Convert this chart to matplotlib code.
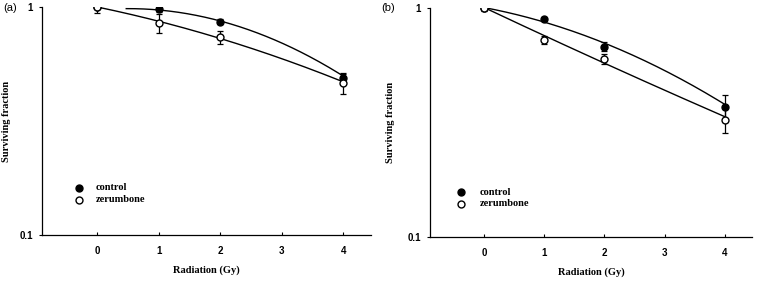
import numpy as np
import matplotlib
matplotlib.use('Agg')
import matplotlib.pyplot as plt

# dose points
dose = [0, 1, 2, 4]
xticks = [0, 1, 2, 3, 4]

# panel (a)
a_control = [1.0, 0.977, 0.862, 0.49]
a_control_err = [0.0, 0.03, 0.02, 0.02]
a_zer = [1.0, 0.85, 0.735, 0.465]
a_zer_err = [0.06, 0.08, 0.05, 0.05]

# panel (b)
b_control = [1.0, 0.892, 0.675, 0.367]
b_control_err = [0.0, 0.02, 0.03, 0.05]
b_zer = [1.0, 0.723, 0.599, 0.323]
b_zer_err = [0.03, 0.03, 0.03, 0.04]

# fitted curves: ln S = c + b*D + a*D^2  (c, b, a), and dose range of the drawn fit
a_control_fit = (-0.0303, 0.056, -0.0557)
a_control_range = (0.47, 4.0)
a_zer_fit = (0.0, -0.129, -0.015)
a_zer_range = (0.0, 4.0)
b_control_fit = (0.0, -0.114, -0.03225)
b_control_range = (0.0, 4.0)
b_zer_fit = (0.0, -0.285, 0.00275)
b_zer_range = (0.0, 4.0)

serif = 'Liberation Serif'
sans = 'Liberation Sans'


def fit_curve(ax, fit, rng):
    d = np.linspace(rng[0], rng[1], 200)
    c, b, a = fit
    ax.plot(d, np.exp(c + b * d + a * d ** 2), color='black', lw=1.0, zorder=2)


def panel(ax, ctrl, ctrl_err, zer, zer_err, cfit, crange, zfit, zrange, leg_x, leg_y, ylab_x):
    fit_curve(ax, cfit, crange)
    fit_curve(ax, zfit, zrange)
    ax.errorbar(dose, ctrl, yerr=ctrl_err, fmt='o', color='black', mfc='black',
                ms=5, capsize=2, elinewidth=0.9, capthick=0.9, zorder=3)
    ax.errorbar(dose, zer, yerr=zer_err, fmt='o', color='black', mfc='white',
                ms=5, capsize=2, elinewidth=0.9, capthick=0.9, zorder=4)
    ax.set_yscale('log')
    ax.set_ylim(0.1, 1.0)
    ax.set_xlim(-0.9, 4.45)
    ax.set_yticks([0.1, 1], ['0.1', '1'], fontfamily=sans, fontweight='bold', fontsize=7)
    ax.yaxis.set_minor_locator(matplotlib.ticker.NullLocator())
    ax.set_xticks(xticks, [str(x) for x in xticks], fontfamily=sans, fontweight='bold', fontsize=7)
    ax.tick_params(axis='x', direction='in', length=2.5, width=0.8, pad=8)
    ax.tick_params(axis='y', direction='out', length=2.5, width=0.8, pad=4)
    for s in ['top', 'right']:
        ax.spines[s].set_visible(False)
    for s in ['left', 'bottom']:
        ax.spines[s].set_linewidth(0.9)
    ax.set_xlabel('Radiation (Gy)', fontfamily=serif, fontweight='bold', fontsize=7.5, labelpad=7)
    ax.set_ylabel('Surviving fraction', fontfamily=serif, fontweight='bold', fontsize=7.5)
    ax.yaxis.set_label_coords(ylab_x, 0.5)
    # legend drawn as markers + text
    ax.plot([leg_x[0]], [leg_y[0]], 'o', color='black', mfc='black', ms=5, clip_on=False)
    ax.plot([leg_x[0]], [leg_y[1]], 'o', color='black', mfc='white', ms=5, clip_on=False)
    ax.text(leg_x[1], leg_y[0], 'control', fontfamily=serif, fontweight='bold', fontsize=7.5, va='center')
    ax.text(leg_x[1], leg_y[1], 'zerumbone', fontfamily=serif, fontweight='bold', fontsize=7.5, va='center')


fig = plt.figure(figsize=(7.6, 2.81), dpi=100)
ax1 = fig.add_axes([0.0553, 0.164, 0.4327, 0.811])
ax2 = fig.add_axes([0.566, 0.158, 0.423, 0.815])

panel(ax1, a_control, a_control_err, a_zer, a_zer_err,
      a_control_fit, a_control_range, a_zer_fit, a_zer_range,
      (-0.30, -0.02), (0.161, 0.1424), -0.095)
panel(ax2, b_control, b_control_err, b_zer, b_zer_err,
      b_control_fit, b_control_range, b_zer_fit, b_zer_range,
      (-0.38, -0.07), (0.156, 0.139), -0.110)

fig.text(0.004, 0.972, '(a)', fontfamily=sans, fontsize=8, va='center', ha='left')
fig.text(0.502, 0.972, '(b)', fontfamily=sans, fontsize=8, va='center', ha='left')

fig.savefig('out.png', dpi=100)
